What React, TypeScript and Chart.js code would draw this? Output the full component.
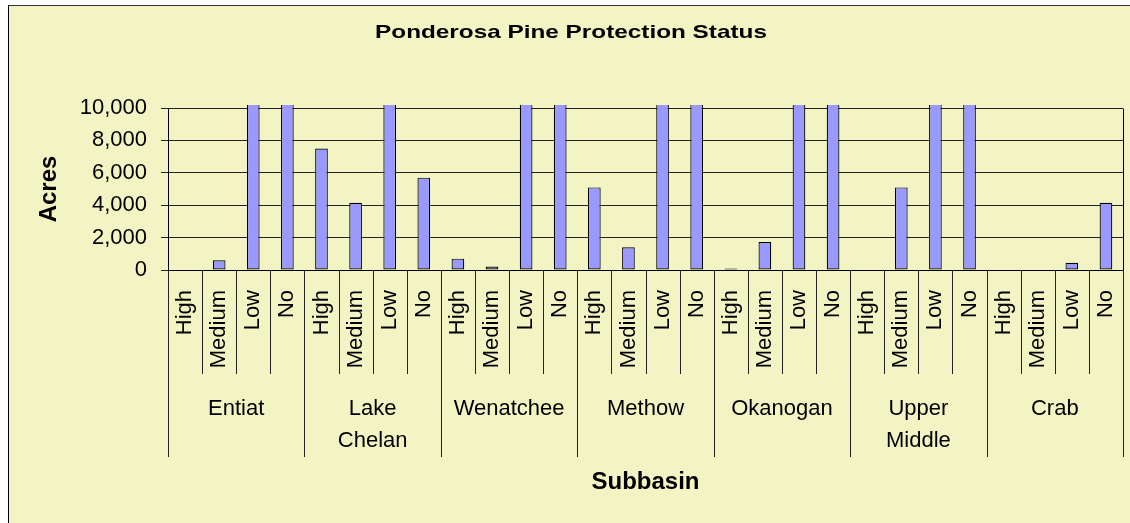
import React, { useEffect, useRef } from 'react';
import Chart from 'chart.js/auto';

const chartTitle = 'Ponderosa Pine Protection Status';
const yAxisTitle = 'Acres';
const xAxisTitle = 'Subbasin';
const subbasinLines = [['Entiat'], ['Lake', 'Chelan'], ['Wenatchee'], ['Methow'], ['Okanogan'], ['Upper', 'Middle'], ['Crab']];
const statuses = ['High', 'Medium', 'Low', 'No'];
const highAcres = [0, 7500, 700, 5100, 100, 0, 0];
const mediumAcres = [600, 4150, 220, 1400, 1730, 5100, 0];
const lowAcres = [38000, 21000, 95000, 140000, 110000, 45000, 450];
const noAcres = [52000, 5700, 120000, 160000, 190000, 60000, 4150];
const yTicks = [0, 2000, 4000, 6000, 8000, 10000];

const FAMILY = "'Liberation Sans', Arial, sans-serif";

const categories: string[] = [];
const values: number[] = [];
subbasinLines.forEach((_, g) => {
  const series = [highAcres, mediumAcres, lowAcres, noAcres];
  statuses.forEach((s, k) => {
    categories.push(s);
    values.push(series[k][g]);
  });
});

const customDraw = {
  id: 'customDraw',
  afterDraw(chart: any) {
    const { ctx, chartArea } = chart;
    const x = chart.scales.x;
    const n = categories.length;
    const half = (x.getPixelForValue(1) - x.getPixelForValue(0)) / 2;
    ctx.save();
    // plot frame (right side)
    ctx.strokeStyle = '#000';
    ctx.lineWidth = 1;
    ctx.beginPath();
    const r = Math.round(chartArea.right) + 0.5;
    ctx.moveTo(r, Math.round(chartArea.top) + 0.5);
    ctx.lineTo(r, Math.round(chartArea.bottom) + 0.5);
    ctx.stroke();
    // separators below axis
    const base = chartArea.bottom;
    ctx.strokeStyle = '#222';
    for (let i = 0; i <= n; i++) {
      const px = Math.round(i < n ? x.getPixelForValue(i) - half : x.getPixelForValue(n - 1) + half) + 0.5;
      const isGroup = i % statuses.length === 0;
      ctx.beginPath();
      ctx.moveTo(px, Math.round(base) + 1);
      ctx.lineTo(px, base + (isGroup ? 187 : 104));
      ctx.stroke();
    }
    // group labels
    ctx.fillStyle = '#000';
    ctx.font = `22px ${FAMILY}`;
    ctx.textAlign = 'center';
    ctx.textBaseline = 'alphabetic';
    subbasinLines.forEach((lines, g) => {
      const i0 = g * statuses.length;
      const i1 = i0 + statuses.length - 1;
      const cx = (x.getPixelForValue(i0) + x.getPixelForValue(i1)) / 2;
      lines.forEach((t, li) => {
        ctx.fillText(t, cx, base + 145 + li * 31.7);
      });
    });
    // chart title
    ctx.font = `bold 19px ${FAMILY}`;
    ctx.translate(562, 32);
    ctx.scale(1.28, 1);
    ctx.fillText(chartTitle, 0, 0);
    ctx.restore();
  },
};

export default function App() {
  const ref = useRef<HTMLCanvasElement>(null);
  useEffect(() => {
    if (!ref.current) return;
    const chart = new Chart(ref.current, {
      type: 'bar',
      data: {
        labels: categories,
        datasets: [
          {
            data: values,
            backgroundColor: '#9999FF',
            borderColor: '#000',
            borderWidth: 1.2,
            borderSkipped: false,
            barPercentage: 0.372,
            categoryPercentage: 1,
            clip: { left: 0, top: 3, right: 0, bottom: 0 } as any,
          },
        ],
      },
      options: {
        animation: false,
        responsive: false,
        events: [],
        layout: { padding: { top: 102, right: 0, bottom: 0, left: 0 } },
        plugins: { legend: { display: false }, tooltip: { enabled: false }, title: { display: false } },
        scales: {
          x: {
            type: 'category',
            afterFit: (s: any) => {
              s.height = 253;
              s.paddingLeft = 0;
              s.paddingRight = 7;
            },
            ticks: {
              autoSkip: false,
              minRotation: 90,
              maxRotation: 90,
              padding: 20,
              color: '#000',
              font: { family: FAMILY, size: 22 },
            },
            grid: { display: false, drawTicks: false },
            border: { display: true, color: '#000', width: 1 },
            title: {
              display: true,
              text: xAxisTitle,
              color: '#000',
              font: { family: FAMILY, size: 24, weight: 'bold' },
              padding: { top: 0, bottom: 26 },
            },
          },
          y: {
            min: 0,
            max: 10000,
            afterBuildTicks: (s: any) => {
              s.ticks = yTicks.map((v) => ({ value: v }));
            },
            afterFit: (s: any) => {
              s.width = 159;
              s.paddingTop = 0;
              s.paddingBottom = 0;
            },
            ticks: {
              color: '#000',
              padding: 14,
              font: { family: FAMILY, size: 22 },
              callback: (v: any) => Number(v).toLocaleString('en-US'),
            },
            grid: { color: '#222', lineWidth: 1, tickLength: 7, drawTicks: true },
            border: { display: true, color: '#000', width: 1 },
            title: {
              display: true,
              text: yAxisTitle,
              color: '#000',
              font: { family: FAMILY, size: 24, weight: 'bold' },
              padding: { top: 26, bottom: 0 },
            },
          },
        },
      },
      plugins: [customDraw],
    });
    return () => chart.destroy();
  }, []);

  return (
    <div
      style={{
        position: 'fixed',
        left: 8,
        top: 5,
        width: 1140,
        height: 540,
        boxSizing: 'border-box',
        borderLeft: '1px solid #000',
        borderTop: '1px solid #333',
        background: '#F2F5C3',
        overflow: 'hidden',
      }}
    >
      <canvas ref={ref} width={1121} height={517} style={{ display: 'block' }} />
    </div>
  );
}
